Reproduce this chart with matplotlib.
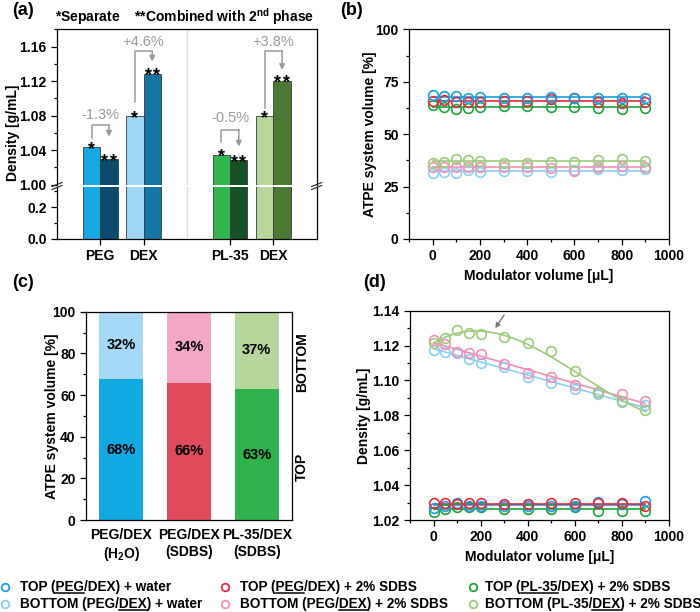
import numpy as np
import matplotlib
matplotlib.use('Agg')
import matplotlib.pyplot as plt
from matplotlib.lines import Line2D
from matplotlib.ticker import MultipleLocator, FormatStrFormatter

plt.rcParams['font.family'] = ['Liberation Sans', 'DejaVu Sans']
plt.rcParams['font.weight'] = 'bold'
plt.rcParams['axes.labelweight'] = 'bold'
plt.rcParams['font.size'] = 10
plt.rcParams['mathtext.fontset'] = 'custom'
plt.rcParams['mathtext.rm'] = 'Liberation Sans:bold'
plt.rcParams['mathtext.it'] = 'Liberation Sans:bold:italic'
plt.rcParams['mathtext.bf'] = 'Liberation Sans:bold'
plt.rcParams['axes.linewidth'] = 0.9

# ---- data (a): densities of separate vs combined phases
cats_a = ['PEG', 'DEX', 'PL-35', 'DEX']
dens_sep = [1.043, 1.079, 1.034, 1.079]
dens_comb = [1.029, 1.128, 1.028, 1.120]
change_lbl = ['-1.3%', '+4.6%', '-0.5%', '+3.8%']
sep_colors = ['#17a9e1', '#9fd7f5', '#33b550', '#b8d89b']
comb_colors = ['#0b4b6b', '#1575a3', '#155228', '#4b7a34']

# ---- data (b)/(d): modulator volume series
vol = [0, 50, 100, 150, 200, 300, 400, 500, 600, 700, 800, 900]
vol_top_peg_w = [68.7, 68.2, 68.4, 67.4, 67.9, 67.4, 67.4, 67.9, 67.3, 67.1, 67.4, 67.1]
vol_top_peg_s = [66.0, 66.3, 65.5, 65.5, 65.5, 66.0, 66.0, 66.6, 67.1, 65.5, 65.0, 65.5]
vol_top_pl_s = [63.9, 63.1, 61.8, 62.3, 62.8, 63.4, 63.4, 63.1, 63.1, 62.6, 62.0, 62.6]
vol_bot_peg_w = [31.6, 32.1, 31.6, 32.9, 32.1, 32.6, 32.6, 31.8, 32.9, 33.2, 32.9, 33.2]
vol_bot_peg_s = [34.5, 34.5, 34.5, 34.5, 34.5, 34.2, 34.2, 33.7, 32.4, 34.5, 35.0, 34.5]
vol_bot_pl_s = [36.1, 36.9, 38.2, 37.7, 37.2, 36.4, 36.4, 36.9, 36.9, 37.5, 38.2, 37.2]

den_top_peg_w = [1.0270, 1.0280, 1.0295, 1.0280, 1.0280, 1.0280, 1.0280, 1.0280, 1.0280, 1.0305, 1.0290, 1.0310]
den_top_peg_s = [1.0295, 1.0295, 1.0290, 1.0300, 1.0295, 1.0290, 1.0290, 1.0300, 1.0295, 1.0295, 1.0300, 1.0280]
den_top_pl_s = [1.0248, 1.0263, 1.0273, 1.0277, 1.0273, 1.0261, 1.0261, 1.0261, 1.0273, 1.0254, 1.0254, 1.0254]
den_bot_peg_w = [1.1175, 1.1165, 1.1160, 1.1123, 1.1102, 1.1079, 1.1018, 1.0987, 1.0949, 1.0920, 1.0874, 1.0859]
den_bot_peg_s = [1.1232, 1.1207, 1.1165, 1.1160, 1.1150, 1.1094, 1.1040, 1.1022, 1.0974, 1.0932, 1.0922, 1.0882]
den_bot_pl_s = [1.1217, 1.1245, 1.1289, 1.1270, 1.1268, 1.1249, 1.1213, 1.1169, 1.1054, 1.0935, 1.0885, 1.0830]

# ---- data (c): phase volume ratio
cats_c = ['PEG/DEX\n(H$_2$O)', 'PEG/DEX\n(SDBS)', 'PL-35/DEX\n(SDBS)']
top_vol = [67.6, 65.8, 62.8]
top_colors = ['#12a8e2', '#e04b5c', '#2db24e']
bot_colors = ['#a6d9f5', '#f2a7c6', '#b7d69c']

c_blue, c_lblue = '#1a9fe0', '#8ccff0'
c_red, c_pink = '#e02a40', '#f08fb8'
c_green, c_lgreen = '#1fa23e', '#9ccb7c'

W, H = 700, 612
fig = plt.figure(figsize=(W / 100, H / 100), dpi=100)


def rect(l, t, r, b):
    return [l / W, 1 - b / H, (r - l) / W, (b - t) / H]


def style(ax):
    ax.tick_params(which='both', direction='out', top=False, right=False, width=0.9)
    ax.tick_params(which='major', length=4)
    ax.tick_params(which='minor', length=2.5)


gray = '#9a9a9a'

# ================= (a)
ax_t = fig.add_axes(rect(57, 29.3, 316.7, 184.5))
ax_b = fig.add_axes(rect(57, 187.5, 316.7, 239))
centers = np.array([1, 2, 4, 5])
for ax in (ax_t, ax_b):
    ax.bar(centers - 0.2, dens_sep, width=0.4, color=sep_colors, edgecolor='#3a3a3a', linewidth=0.6)
    ax.bar(centers + 0.2, dens_comb, width=0.4, color=comb_colors, edgecolor='#3a3a3a', linewidth=0.6)
    ax.axvline(3, color='#dcdcdc', lw=1, zorder=0)
    ax.set_xlim(0, 6)
    style(ax)
ax_t.set_ylim(1.0, 1.18)
ax_b.set_ylim(0, 0.325)
ax_t.spines['bottom'].set_visible(False)
ax_b.spines['top'].set_visible(False)
ax_t.tick_params(axis='x', which='both', bottom=False, labelbottom=False)
ax_t.yaxis.set_major_locator(MultipleLocator(0.04))
ax_t.yaxis.set_minor_locator(MultipleLocator(0.02))
ax_t.yaxis.set_major_formatter(FormatStrFormatter('%.2f'))
ax_b.yaxis.set_major_locator(MultipleLocator(0.2))
ax_b.yaxis.set_minor_locator(MultipleLocator(0.1))
ax_b.yaxis.set_major_formatter(FormatStrFormatter('%.1f'))
ax_b.set_xticks(centers, cats_a)
ax_b.tick_params(axis='x', which='minor', bottom=False)


def star(x, y, dx):
    ax_t.annotate('*', (x, y), xytext=(dx, -4.5), textcoords='offset points',
                  ha='center', va='baseline', fontsize=13)


for i, c in enumerate(centers):
    star(c - 0.2, dens_sep[i], 0)
    star(c + 0.2, dens_comb[i], -3.0)
    star(c + 0.2, dens_comb[i], 3.0)

# bracket geometry: (left bottom, horizontal level, arrow tip, label y)
brackets = [(1.0535, 1.069, 1.0555, 1.081),
            (1.096, 1.1545, 1.1426, 1.1658),
            (1.0495, 1.0632, 1.0440, 1.0767),
            (1.0884, 1.1553, 1.1329, 1.1658)]
for i, c in enumerate(centers):
    lb, hy, tip, ly = brackets[i]
    ax_t.plot([c - 0.2, c - 0.2, c + 0.2], [lb, hy, hy], color=gray, lw=1.1)
    ax_t.annotate('', xy=(c + 0.2, tip), xytext=(c + 0.2, hy),
                  arrowprops=dict(arrowstyle='-|>', color=gray, lw=1.1, mutation_scale=8,
                                  shrinkA=0, shrinkB=0))
    ax_t.text(c, ly, change_lbl[i], ha='center', va='center', color=gray,
              fontsize=10.5, fontweight='normal')

# axis break marks
for xb in (57, 316.7):
    for yb in (184.5, 187.5):
        fig.add_artist(Line2D([(xb - 5) / W, (xb + 5) / W], [1 - (yb + 2) / H, 1 - (yb - 2) / H],
                              color='#333333', lw=0.9))

fig.text(13 / W, 1 - 133 / H, 'Density [g/mL]', rotation=90, ha='center', va='center')
fig.text(185 / W, 1 - 17 / H, r'*Separate    **Combined with 2$^{\mathrm{nd}}$ phase',
         ha='center', va='center', fontsize=10)


# ================= (b)
def series_plot(ax, x, y, color, fit):
    ax.plot(x, y, 'o', mfc='none', mec=color, ms=7, mew=1.2, zorder=3)
    xs = np.linspace(min(x), max(x), 200)
    ax.plot(xs, np.polyval(np.polyfit(x, y, fit), xs), color=color, lw=1.2, zorder=2)


ax = fig.add_axes(rect(409, 29.3, 669, 239))
for y, col in [(vol_bot_peg_w, c_lblue), (vol_bot_peg_s, c_pink), (vol_bot_pl_s, c_lgreen),
               (vol_top_pl_s, c_green), (vol_top_peg_s, c_red), (vol_top_peg_w, c_blue)]:
    series_plot(ax, vol, y, col, 0)
ax.set_xlim(-100, 1000)
ax.set_ylim(0, 100)
ax.xaxis.set_major_locator(MultipleLocator(200))
ax.xaxis.set_minor_locator(MultipleLocator(100))
ax.yaxis.set_major_locator(MultipleLocator(25))
ax.yaxis.set_minor_locator(MultipleLocator(12.5))
style(ax)
ax.set_xlabel('Modulator volume [μL]')
ax.set_ylabel('ATPE system volume [%]', labelpad=-1)

# ================= (c)
ax = fig.add_axes(rect(86, 311.7, 292, 520))
xc = np.arange(len(cats_c))
bot_vol = [100 - v for v in top_vol]
ax.bar(xc, top_vol, width=0.65, color=top_colors)
ax.bar(xc, bot_vol, bottom=top_vol, width=0.65, color=bot_colors)
for i in xc:
    ax.text(i, top_vol[i] / 2, '%d%%' % round(top_vol[i]), ha='center', va='center', fontsize=10.5)
    ax.text(i, top_vol[i] + bot_vol[i] / 2, '%d%%' % round(bot_vol[i]), ha='center', va='center',
            fontsize=10.5)
ax.set_xlim(-0.52, 2.52)
ax.set_ylim(0, 100)
ax.set_xticks(xc, cats_c)
ax.yaxis.set_major_locator(MultipleLocator(20))
ax.yaxis.set_minor_locator(MultipleLocator(10))
style(ax)
ax.tick_params(axis='x', length=0, pad=6)
ax.set_ylabel('ATPE system volume [%]', labelpad=-4.5)
ax.text(1.015, 76, 'BOTTOM', rotation=90, transform=ax.get_yaxis_transform(), ha='left', va='center')
ax.text(1.015, 25.5, 'TOP', rotation=90, transform=ax.get_yaxis_transform(), ha='left', va='center')

# ================= (d)
ax = fig.add_axes(rect(410, 310.7, 669, 520))
for y, col, fit in [(den_bot_peg_w, c_lblue, 1), (den_bot_peg_s, c_pink, 1), (den_bot_pl_s, c_lgreen, 3),
                    (den_top_pl_s, c_green, 0), (den_top_peg_w, c_blue, 0), (den_top_peg_s, c_red, 0)]:
    series_plot(ax, vol, y, col, fit)
ax.annotate('', xy=(262, 1.1300), xytext=(300, 1.1375),
            arrowprops=dict(arrowstyle='-|>', color='#7a7a7a', lw=1, mutation_scale=7,
                            shrinkA=0, shrinkB=0))
ax.set_xlim(-100, 1000)
ax.set_ylim(1.02, 1.14)
ax.xaxis.set_major_locator(MultipleLocator(200))
ax.xaxis.set_minor_locator(MultipleLocator(100))
ax.yaxis.set_major_locator(MultipleLocator(0.02))
ax.yaxis.set_minor_locator(MultipleLocator(0.01))
ax.yaxis.set_major_formatter(FormatStrFormatter('%.2f'))
style(ax)
ax.set_xlabel('Modulator volume [μL]')
ax.set_ylabel('Density [g/mL]', labelpad=1)

# panel labels
for lbl, x, y in [('(a)', 12, 2), ('(b)', 340, 2), ('(c)', 12, 274), ('(d)', 363, 274)]:
    fig.text(x / W, 1 - y / H, lbl, ha='left', va='top', fontsize=13)

# ================= legend (manual, with underlined parts)
legend_items = [
    ('TOP (', 'PEG', '/DEX) + water', c_blue, 4.5, 20, 587),
    ('BOTTOM (PEG/', 'DEX', ') + water', c_lblue, 4.5, 20, 604),
    ('TOP (', 'PEG', '/DEX) + 2% SDBS', c_red, 225, 240, 587),
    ('BOTTOM (PEG/', 'DEX', ') + 2% SDBS', c_pink, 225, 240, 604),
    ('TOP (', 'PL-35', '/DEX) + 2% SDBS', c_green, 473, 485, 587),
    ('BOTTOM (PL-35/', 'DEX', ') + 2% SDBS', c_lgreen, 473, 485, 604),
]
leg_texts = []
for pre, und, post, col, mx, tx, ty in legend_items:
    fig.add_artist(Line2D([mx / W], [1 - ty / H], marker='o', ls='none', mfc='none', mec=col,
                          ms=5.5, mew=1.3))
    t = fig.text(tx / W, 1 - ty / H, pre + und + post, ha='left', va='center', fontsize=9.8)
    leg_texts.append((t, pre, und))

fig.canvas.draw()
renderer = fig.canvas.get_renderer()
for t, pre, und in leg_texts:
    prop = t.get_fontproperties()
    bb = t.get_window_extent(renderer)
    w_pre = renderer.get_text_width_height_descent(pre, prop, ismath=False)[0]
    w_all = renderer.get_text_width_height_descent(pre + und, prop, ismath=False)[0]
    d = renderer.get_text_width_height_descent(t.get_text(), prop, ismath=False)[2]
    yl = bb.y0 + d - 1.6
    fig.add_artist(Line2D([(bb.x0 + w_pre) / W, (bb.x0 + w_all) / W], [yl / H, yl / H],
                          color='black', lw=1.1))

fig.savefig('out.png', dpi=100)
